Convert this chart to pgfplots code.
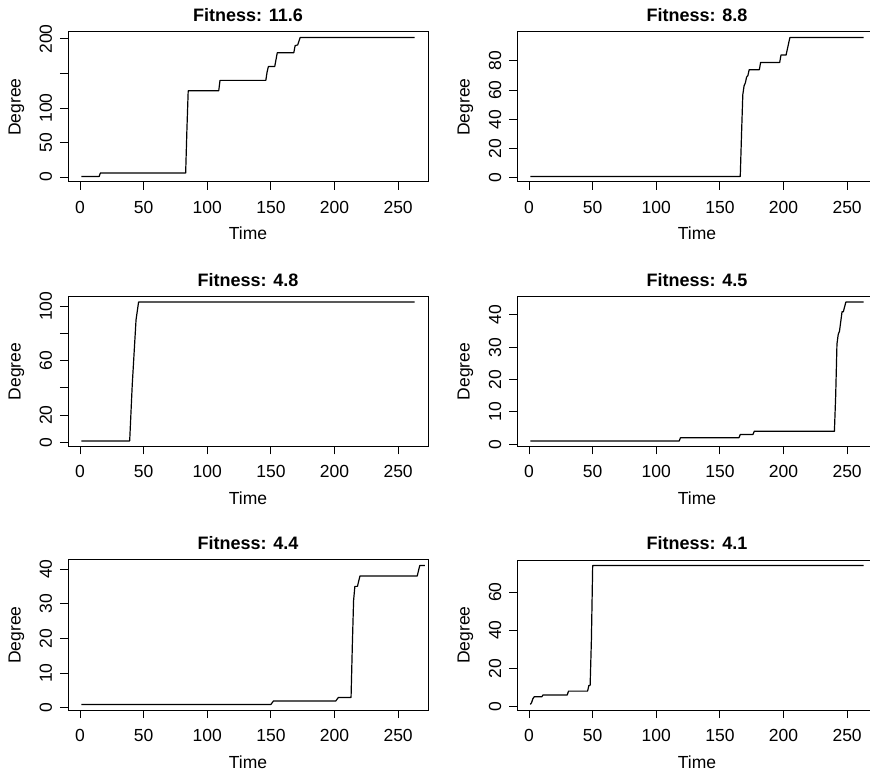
\documentclass[border=0pt]{standalone}
\usepackage{fontspec}
\setmainfont{Liberation Sans}
\usepackage{pgfplots}
\pgfplotsset{compat=1.18}
\pgfplotsset{
  rpanel/.style={
    scale only axis, width=360bp, height=150bp,
    xmin=-9.48, xmax=273.48,
    xtick={0,50,100,150,200,250},
    tick align=outside,
    major tick length=8bp,
    xtick pos=left, ytick pos=left,
    axis line style={line width=1bp},
    every tick/.style={black, line width=1bp},
    /pgf/number format/assume math mode=true,
    tick label style={font=\fontsize{17.5bp}{20bp}\selectfont, inner sep=0pt},
    xticklabel style={anchor=north},
    yticklabel style={rotate=90, anchor=base},
    xticklabel shift=11bp,
    yticklabel shift=8bp,
    title style={at={(axis description cs:0.5,1)}, anchor=base, yshift=4.5bp, inner sep=0pt, font=\bfseries\fontsize{18bp}{20bp}\selectfont},
    xlabel={Time}, ylabel={Degree},
    label style={font=\fontsize{17.5bp}{20bp}\selectfont, inner sep=0pt},
    xlabel style={at={(axis description cs:0.5,0)}, anchor=base, yshift=-58bp},
    ylabel style={at={(axis description cs:-0.1319,0.5)}, anchor=base},
  },
  rline/.style={black, line width=1.2bp, line join=round, mark=none},
}
\begin{document}
\begin{tikzpicture}
\useasboundingbox (0bp,0bp) rectangle (870bp,773bp);
\clip (0bp,0bp) rectangle (870bp,773bp);
% Panel 1
\begin{axis}[rpanel, at={(68bp,591bp)}, anchor=south west,
  title={Fitness: 11.6}, ymin=-7.04, ymax=210.04,
  ytick={0,50,100,150,200}, yticklabels={0,50,100,{},200}]
\addplot[rline] coordinates {(1,1) (15,1) (16,6) (83,6) (84,70) (85,125) (109,125) (110,140) (146,140) (147,152) (148,160) (153,160) (155,180) (168,180) (169,190) (170,191) (171,191) (173,202) (263,202)};
\end{axis}
% Panel 2
\begin{axis}[rpanel, at={(517bp,591bp)}, anchor=south west,
  title={Fitness: 8.8}, ymin=-2.8, ymax=99.8,
  ytick={0,20,40,60,80}]
\addplot[rline] coordinates {(1,1) (166,1) (167,30) (168,57) (169,63) (170,65) (171,69) (172,70) (173,74) (181,74) (182,79) (197,79) (198,84) (202,84) (203,88) (205,96) (263,96)};
\end{axis}
% Panel 3
\begin{axis}[rpanel, at={(68bp,326.5bp)}, anchor=south west,
  title={Fitness: 4.8}, ymin=-3.08, ymax=107.08,
  ytick={0,20,40,60,80,100}, yticklabels={0,20,{},60,{},100}]
\addplot[rline] coordinates {(1,1) (39,1) (41,42) (44,90) (46,103) (263,103)};
\end{axis}
% Panel 4
\begin{axis}[rpanel, at={(517bp,326.5bp)}, anchor=south west,
  title={Fitness: 4.5}, ymin=-0.72, ymax=45.72,
  ytick={0,10,20,30,40}]
\addplot[rline] coordinates {(1,1) (118,1) (119,2) (165,2) (166,3) (176,3) (177,4) (240,4) (241,15) (242,31) (243,34) (244,35) (246,41) (247,41) (249,44) (263,44)};
\end{axis}
% Panel 5
\begin{axis}[rpanel, at={(68bp,63bp)}, anchor=south west,
  title={Fitness: 4.4}, ymin=-0.6, ymax=42.6,
  ytick={0,10,20,30,40}]
\addplot[rline] coordinates {(1,1) (150,1) (152,2) (201,2) (203,3) (213,3) (214,18) (215,31) (216,35) (218,35) (220,38) (265,38) (267,41) (271,41)};
\end{axis}
% Panel 6
\begin{axis}[rpanel, at={(517bp,63bp)}, anchor=south west,
  title={Fitness: 4.1}, ymin=-1.92, ymax=76.92,
  ytick={0,20,40,60}]
\addplot[rline] coordinates {(1,1) (2,2) (3,4) (4,5) (10,5) (11,6) (30,6) (31,8) (46,8) (47,11) (48,11) (49,35) (50,74) (263,74)};
\end{axis}
\end{tikzpicture}
\end{document}
